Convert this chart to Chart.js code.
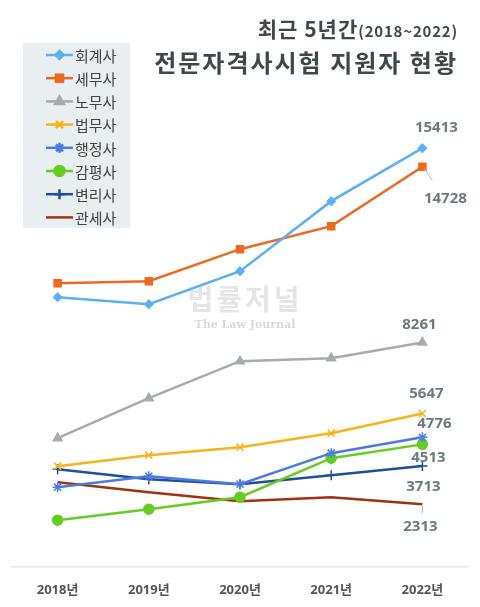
<!DOCTYPE html>
<html><head><meta charset="utf-8">
<script src="https://cdn.jsdelivr.net/npm/chart.js@4"></script>
<style>
body{margin:0;background:#fff;font-family:"Noto Sans CJK KR","Noto Sans",sans-serif}
#wrap{position:relative;width:480px;height:607px}
#t{position:absolute;right:22px;top:18px;text-align:right;color:#3f474b;font-weight:bold;line-height:1}
#t .a{font-size:21px;letter-spacing:1px}
#t .a small{font-size:15px;letter-spacing:0.8px}
#t .b{font-size:24px;letter-spacing:2px;margin-top:11px}
#wm{position:absolute;left:160px;top:278px;width:170px;text-align:center;color:rgba(180,180,180,0.35);font-weight:bold}
</style></head><body>
<div id="wrap"><canvas id="c" width="480" height="607"></canvas>
<div id="wm"><div style="font-size:28px;letter-spacing:3px">법률저널</div><div style="font-size:11px;font-family:'DejaVu Serif';color:rgba(160,160,160,0.4)">The Law Journal</div></div>
<div id="t"><div class="a">최근 5년간<small>(2018~2022)</small></div><div class="b">전문자격사시험 지원자 현황</div></div>
</div>
<script>
const categories=["2018년","2019년","2020년","2021년","2022년"];
const names=["회계사","세무사","노무사","법무사","행정사","감평사","변리사","관세사"];
const s회계사=[9930,9672,10887,13463,15413];
const s세무사=[10445,10518,11696,12543,14728];
const s노무사=[4741,6213,7575,7685,8261];
const s법무사=[3711,4115,4410,4925,5647];
const s행정사=[2938,3343,3048,4189,4776];
const s감평사=[1724,2128,2570,4005,4513];
const s변리사=[3600,3232,3048,3380,3713];
const s관세사=[3122,2754,2423,2570,2313];
const series=[s회계사,s세무사,s노무사,s법무사,s행정사,s감평사,s변리사,s관세사];
const colors=["#5cb0f2","#ec6a20","#a6acab","#f6b31c","#4b7be2","#66cc22","#1f4e9a","#a2310f"];
const styles=["rectRot","rect","triangle","crossRot","star","circle","cross",false];
const radii=[4,5,5,5,5,5,5,0];
const labelOff=[[14,-20,null],[23,32,[2,2,10,14]],[-3,-18,null],[4,-20,null],[12,-13,null],[6,13,null],[1,21,null],[-2,23,[0,2,0,9]]];
const datasets=series.map((d,i)=>({label:names[i],data:d,borderColor:colors[i],backgroundColor:colors[i],
 pointStyle:styles[i],pointRadius:radii[i],pointHoverRadius:radii[i],borderWidth:2.5,pointBorderWidth:1.5,tension:0}));
const extras={id:'extras',afterDatasetsDraw(ch){
 const ctx=ch.ctx;
 ctx.save();ctx.font="bold 15px 'Open Sans','Noto Sans',sans-serif";ctx.fillStyle="#6b7a80";ctx.textAlign="center";ctx.textBaseline="middle";
 ch.data.datasets.forEach((ds,i)=>{const p=ch.getDatasetMeta(i).data[4];const o=labelOff[i];
  if(o[2]){ctx.strokeStyle="#b0b8bb";ctx.lineWidth=1;ctx.beginPath();ctx.moveTo(p.x+o[2][0],p.y+o[2][1]);ctx.lineTo(p.x+o[2][2],p.y+o[2][3]);ctx.stroke();}
  ctx.fillText(String(ds.data[4]),p.x+o[0],p.y+o[1]);});
 ctx.fillStyle="#e9eef0";ctx.fillRect(23,43,107,185);
 ctx.font="15px 'Noto Sans CJK KR',sans-serif";ctx.textAlign="left";
 ch.data.datasets.forEach((ds,i)=>{const y=55+i*23.2;
  ctx.strokeStyle=colors[i];ctx.lineWidth=2.5;ctx.beginPath();ctx.moveTo(46,y);ctx.lineTo(73,y);ctx.stroke();
  if(styles[i]){ctx.fillStyle=colors[i];Chart.helpers.drawPoint(ctx,{pointStyle:styles[i],radius:radii[i],rotation:0,borderWidth:1.5},59.5,y);}
  ctx.fillStyle="#444";ctx.fillText(ds.label,75,y+1);});
 ctx.restore();}};
new Chart(document.getElementById('c'),{type:'line',data:{labels:categories,datasets},
 options:{responsive:false,animation:false,layout:{padding:{top:20,left:12,right:12}},
  plugins:{legend:{display:false},tooltip:{enabled:false}},
  scales:{y:{display:false,min:0,max:20130},
   x:{offset:true,grid:{display:false},border:{color:"#e3e6e6",width:1.5},
    ticks:{color:"#555",padding:7,font:{size:13,weight:'bold',family:"'Open Sans','Noto Sans CJK KR',sans-serif"}},
    afterFit(s){s.height=40;}}}},plugins:[extras]});
</script></body></html>
